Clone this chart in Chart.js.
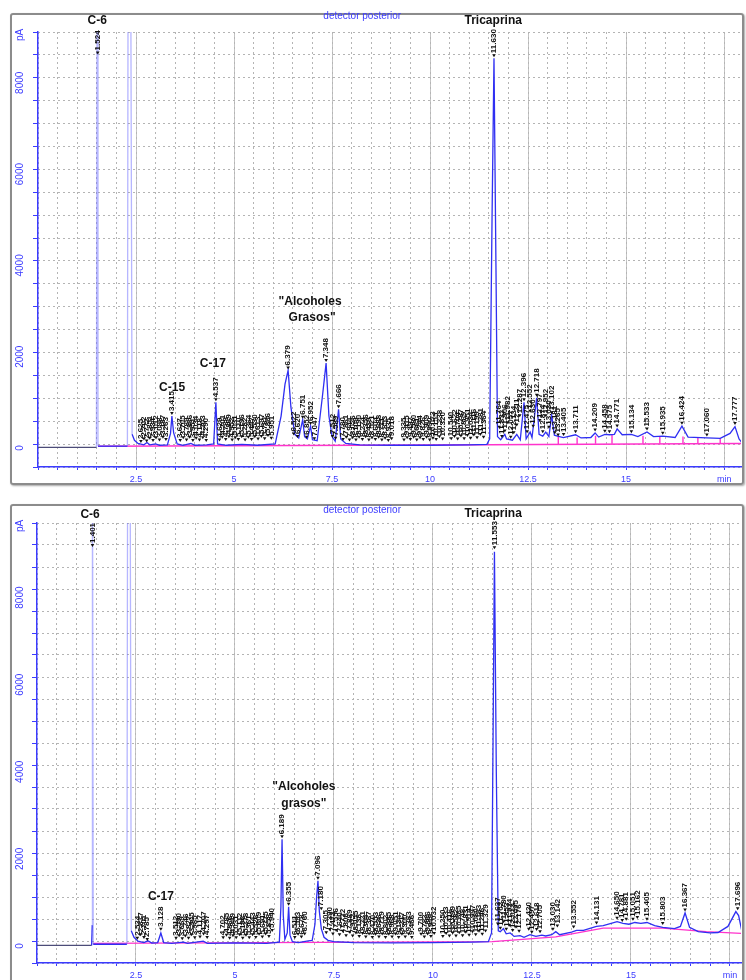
<!DOCTYPE html>
<html>
<head>
<meta charset="utf-8">
<script src="https://cdn.jsdelivr.net/npm/chart.js@4"></script>
<style>
  body { margin: 0; background: #fff; width: 746px; height: 980px; overflow: hidden; position: relative; }
  .frame { position: absolute; border: 2px solid #8c8c8c; border-radius: 3px; box-shadow: 1px 1px 2px rgba(0,0,0,.35); box-sizing: border-box; }
  #f1 { left: 10px; top: 13px; width: 734px; height: 472px; }
  #f2 { left: 10px; top: 504px; width: 734px; height: 490px; }
  canvas { position: absolute; left: 0; }
  #c1 { top: 0; }
  #c2 { top: 490px; }
</style>
</head>
<body>
<div class="frame" id="f1"></div>
<div class="frame" id="f2"></div>
<canvas id="c1" width="746" height="490"></canvas>
<canvas id="c2" width="746" height="490"></canvas>
<script>
// ============================================
// Cromatogramas (detector posterior) - Chart.js
// ============================================

// Ejes comunes
const xTickValues = [2.5, 5, 7.5, 10, 12.5, 15, 17.5];
const xTickLabels = ['2.5', '5', '7.5', '10', '12.5', '15', 'min'];
const yTickValues = [0, 2000, 4000, 6000, 8000];
const yTickLabels = ['0', '2000', '4000', '6000', '8000'];

// --- Cromatograma superior: traza (min, pA) ---
const topTraceTime = [0, 1.49, 1.51, 1.53, 2.28, 2.30, 2.36, 2.40, 2.46, 2.55,
  2.70, 2.78, 2.85, 3.00, 3.10, 3.30, 3.38, 3.415, 3.46, 3.55,
  3.70, 3.90, 4.00, 4.30, 4.48, 4.537, 4.58, 4.80, 5.20, 5.60,
  6.05, 6.20, 6.30, 6.379, 6.45, 6.55, 6.65, 6.751, 6.80, 6.87,
  6.952, 7.00, 7.12, 7.25, 7.348, 7.42, 7.50, 7.58, 7.666, 7.72,
  7.85, 8.20, 9.00, 10.00, 11.00, 11.45, 11.52, 11.58, 11.630, 11.68,
  11.72, 11.80, 11.906, 11.95, 12.10, 12.211, 12.30, 12.396, 12.45, 12.552,
  12.60, 12.718, 12.78, 12.874, 12.95, 13.03, 13.102, 13.17, 13.25, 13.40,
  13.711, 13.85, 14.10, 14.209, 14.30, 14.458, 14.575, 14.70, 14.771, 14.90,
  15.134, 15.30, 15.533, 15.70, 15.935, 16.25, 16.424, 16.58, 17.060, 17.40,
  17.65, 17.777, 17.88, 17.95];
const topTraceSignal = [15, 15, 12000, 40, 40, 12000, 12000, 300, 170, 100,
  70, 120, 70, 90, 60, 70, 320, 700, 330, 90,
  60, 100, 60, 70, 90, 1000, 90, 60, 80, 60,
  90, 700, 1400, 1700, 900, 300, 220, 620, 250, 200,
  480, 180, 160, 1100, 1860, 700, 250, 150, 850, 200,
  100, 70, 60, 60, 70, 80, 200, 5000, 8540, 4000,
  250, 180, 300, 200, 170, 300, 180, 1000, 200, 350,
  230, 1100, 300, 260, 350, 250, 720, 280, 260, 230,
  290, 220, 230, 330, 240, 300, 290, 300, 420, 290,
  300, 250, 350, 250, 260, 230, 480, 240, 220, 210,
  320, 470, 200, 120];
// linea base (rosa) y marcas de integracion
const topBaseTime = [1.53, 11.50, 17.93];
const topBaseSignal = [40, 70, 100];
const topDropTime = [13.27, 13.75, 14.22, 14.64, 15.43, 15.86, 16.45, 16.83, 17.40];
const topDropSignal = [260, 230, 270, 290, 270, 250, 250, 220, 210];
const topDropBase = [90, 90, 92, 93, 95, 96, 97, 98, 99];
// tiempos de retencion rotulados y altura del rotulo
const topPeakTime = [1.524,
  2.625, 2.702, 2.772, 2.851, 2.934, 3.012, 3.098, 3.187, 3.263,
  3.415,
  3.627, 3.705, 3.789, 3.866, 3.951, 4.034, 4.118, 4.203, 4.290,
  4.537,
  4.629, 4.701, 4.788, 4.869, 4.952, 5.031, 5.110, 5.196, 5.282, 5.364, 5.447, 5.530, 5.613, 5.697, 5.781, 5.866, 5.951,
  6.379,
  6.522, 6.620, 6.751, 6.852, 6.952, 7.047,
  7.348,
  7.512, 7.589, 7.666, 7.780, 7.861, 7.944, 8.026, 8.109, 8.190, 8.274, 8.356, 8.439, 8.521, 8.604, 8.688, 8.771, 8.853, 8.935, 9.018,
  9.335, 9.415, 9.497, 9.580, 9.661, 9.744, 9.826, 9.909, 9.990, 10.073, 10.155, 10.238, 10.320,
  10.540, 10.622, 10.704, 10.787, 10.869, 10.951, 11.034, 11.116, 11.199, 11.281, 11.364,
  11.630,
  11.764, 11.832, 11.906, 11.982, 12.057, 12.134, 12.211, 12.287, 12.396, 12.475, 12.552, 12.630, 12.718, 12.797, 12.874, 12.952, 13.030, 13.102, 13.181, 13.265, 13.405, 13.711,
  14.209, 14.458, 14.575, 14.771, 15.134, 15.533, 15.935, 16.424, 17.060, 17.777];
const topPeakHeight = [8600,
  90, 140, 100, 160, 110, 170, 120, 180, 130,
  700,
  110, 170, 120, 180, 110, 160, 120, 170, 110,
  1000,
  120, 180, 130, 190, 120, 170, 130, 190, 120, 180, 130, 190, 140, 200, 150, 220, 160,
  1700,
  250, 200, 620, 180, 480, 150,
  1860,
  200, 160, 850, 130, 180, 120, 170, 120, 180, 130, 190, 120, 170, 130, 180, 120, 160, 110, 150,
  120, 170, 130, 180, 120, 170, 130, 180, 120, 160, 130, 190, 140,
  150, 200, 140, 210, 150, 220, 160, 230, 170, 240, 180,
  8540,
  400, 200, 320, 500, 180, 280, 450, 650, 1000, 300, 750, 420, 1100, 550, 300, 650, 400, 720, 280, 230, 240, 300,
  340, 310, 300, 430, 300, 360, 270, 490, 230, 480];

// --- Cromatograma inferior ---
const botTraceTime = [0, 1.38, 1.395, 1.40, 1.42, 2.27, 2.29, 2.35, 2.38, 2.45,
  2.55, 2.70, 2.80, 2.90, 3.05, 3.128, 3.20, 3.40, 3.70, 3.80,
  4.20, 4.30, 5.00, 5.80, 6.12, 6.16, 6.189, 6.22, 6.26, 6.32,
  6.355, 6.39, 6.45, 6.60, 6.85, 6.95, 7.02, 7.06, 7.096, 7.13,
  7.18, 7.25, 7.35, 7.50, 8.00, 9.00, 10.00, 11.00, 11.40, 11.48,
  11.52, 11.553, 11.60, 11.65, 11.70, 11.78, 11.85, 11.95, 12.05, 12.20,
  12.30, 12.45, 12.60, 12.75, 12.85, 13.00, 13.102, 13.20, 13.50, 13.627,
  13.80, 14.131, 14.30, 14.50, 14.650, 14.80, 14.95, 15.10, 15.25, 15.405,
  15.60, 15.803, 16.10, 16.25, 16.367, 16.48, 16.70, 17.00, 17.20, 17.45,
  17.65, 17.72, 17.80, 17.90];
const botTraceSignal = [15, 15, 480, 12000, 40, 40, 12000, 12000, 350, 200,
  110, 80, 120, 70, 80, 300, 80, 60, 90, 60,
  110, 60, 70, 60, 90, 900, 2450, 700, 150, 300,
  900, 250, 100, 80, 120, 130, 500, 1100, 1500, 800,
  400, 200, 130, 100, 80, 70, 80, 90, 100, 300,
  5000, 9050, 4000, 350, 330, 400, 280, 300, 220, 240,
  200, 260, 220, 250, 230, 260, 330, 260, 320, 360,
  360, 450, 470, 520, 560, 520, 500, 540, 520, 540,
  470, 430, 400, 450, 760, 430, 330, 300, 310, 450,
  790, 700, 350, 260];
const botBaseTime = [1.42, 11.50, 13.10, 14.30, 15.80, 16.90, 17.80];
const botBaseSignal = [60, 100, 210, 410, 410, 330, 290];
const botDropTime = [];
const botDropSignal = [];
const botDropBase = [];
const botPeakTime = [1.401,
  2.534, 2.617, 2.701, 2.785,
  3.128,
  3.512, 3.590, 3.669, 3.746, 3.827, 3.905, 3.985,
  4.117, 4.207, 4.297,
  4.702, 4.785, 4.866, 4.949, 5.031, 5.112, 5.196, 5.278, 5.361, 5.443, 5.526, 5.609, 5.691, 5.775, 5.858, 5.940,
  6.189, 6.355,
  6.511, 6.593, 6.678, 6.760,
  7.096, 7.180,
  7.305, 7.390, 7.473, 7.556, 7.640, 7.722, 7.806, 7.889, 7.972, 8.055, 8.138, 8.221, 8.304, 8.387, 8.470, 8.553, 8.636, 8.719, 8.802, 8.885, 8.968, 9.051, 9.134, 9.217, 9.300, 9.383, 9.466,
  9.700, 9.783, 9.866, 9.949, 10.032,
  10.250, 10.333, 10.416, 10.499, 10.582, 10.665, 10.748, 10.831, 10.914, 10.997, 11.080, 11.163, 11.246, 11.329,
  11.553,
  11.637, 11.702, 11.780, 11.853, 11.934, 12.013, 12.095, 12.176,
  12.420, 12.497, 12.618, 12.705,
  13.030, 13.142, 13.552,
  14.131, 14.650, 14.781, 14.881, 15.051, 15.162, 15.405, 15.803, 16.367, 17.696];
const botPeakHeight = [9140,
  120, 200, 140, 90,
  330,
  120, 180, 110, 170, 120, 200, 130,
  150, 220, 140,
  130, 190, 120, 180, 130, 200, 120, 190, 130, 200, 140, 210, 150, 220, 160, 300,
  2450, 900,
  140, 210, 150, 220,
  1500, 800,
  250, 320, 220, 300, 200, 280, 180, 260, 170, 240, 160, 230, 150, 220, 140, 210, 150, 220, 140, 210, 150, 220, 140, 210, 150, 220, 140,
  210, 150, 220, 160, 230,
  160, 230, 170, 240, 170, 250, 180, 260, 190, 270, 200, 280, 210, 290,
  9090,
  450, 350, 500, 330, 420, 300, 380, 280,
  330, 260, 320, 270,
  330, 400, 380,
  470, 580, 530, 560, 560, 600, 560, 460, 770, 800];

// Colores y tipografia
const BLUE = '#3b3bff';
const TRACE = '#2f2ff2';
const PINK = '#ff33cc';
const GRID = '#c4c4c4';
const GRID_DOT = '#b4b4b4';
const FONT = '"Liberation Sans", Arial, sans-serif';

function pts(xs, ys) {
  return xs.map((x, i) => ({ x: x, y: ys[i] }));
}

// segmentos verticales (base -> traza) separados por huecos
function dropPts(xs, tops, bases) {
  const out = [];
  xs.forEach((x, i) => { out.push({ x: x, y: bases[i] }, { x: x, y: tops[i] }, { x: x, y: null }); });
  return out;
}

function vText(ctx, s, x, y) {
  ctx.save();
  ctx.translate(x, y);
  ctx.rotate(-Math.PI / 2);
  ctx.fillText(s, 0, 0);
  ctx.restore();
}

// Rotulos: ticks Y verticales, tiempos de retencion, nombres de picos
function makeOverlay(spec) {
  return {
    id: 'overlay',
    afterDatasetsDraw(chart) {
      const ctx = chart.ctx;
      const xs = chart.scales.x, ys = chart.scales.y;
      ctx.save();
      ctx.fillStyle = BLUE;
      ctx.font = '10px ' + FONT;
      ctx.textAlign = 'center';
      ctx.textBaseline = 'middle';
      yTickValues.forEach((v, i) => vText(ctx, yTickLabels[i], spec.yLabelX, ys.getPixelForValue(v)));
      vText(ctx, 'pA', spec.yLabelX, chart.chartArea.top + 3);

      // tiempos de retencion
      ctx.fillStyle = '#111';
      ctx.font = 'bold 8px ' + FONT;
      ctx.textAlign = 'left';
      spec.peakTime.forEach((t, i) => {
        const px = xs.getPixelForValue(t);
        const py = ys.getPixelForValue(spec.peakHeight[i]) - 1;
        ctx.beginPath();
        ctx.moveTo(px, py);
        ctx.lineTo(px - 1.8, py - 3);
        ctx.lineTo(px + 1.8, py - 3);
        ctx.closePath();
        ctx.fill();
        vText(ctx, t.toFixed(3), px, py - 4);
      });

      // nombres de compuestos
      ctx.textAlign = 'center';
      spec.notes.forEach(n => {
        ctx.fillStyle = n.blue ? BLUE : '#111';
        ctx.font = (n.blue ? '10px ' : 'bold 12px ') + FONT;
        ctx.fillText(n.text, xs.getPixelForValue(n.t), ys.getPixelForValue(n.v));
      });
      ctx.restore();
    }
  };
}

function buildChart(canvasId, spec) {
  return new Chart(document.getElementById(canvasId), {
    type: 'line',
    data: {
      datasets: [
        {
          data: pts(spec.traceTime, spec.traceSignal),
          borderColor: TRACE, borderWidth: 1.3, pointRadius: 0, tension: 0, order: 0,
          segment: {
            borderColor: c => (c.p0.parsed.y > 9500 || c.p1.parsed.y > 9500) ? 'rgba(110,110,255,0.5)'
              : (c.p1.parsed.x <= spec.darkUntil ? '#4c4c78' : undefined)
          }
        },
        { data: pts(spec.baseTime, spec.baseSignal), borderColor: PINK, borderWidth: 1.4, pointRadius: 0, order: 1 },
        { data: dropPts(spec.dropTime, spec.dropSignal, spec.dropBase), borderColor: PINK, borderWidth: 1.4, pointRadius: 0, spanGaps: false, order: 1 }
      ]
    },
    options: {
      responsive: false,
      animation: false,
      events: [],
      layout: { padding: { left: 0, right: 5, top: spec.padTop, bottom: 0 } },
      plugins: { legend: { display: false }, tooltip: { enabled: false } },
      scales: {
        x: {
          type: 'linear', min: 0, max: spec.xMax, position: 'bottom',
          afterFit: s => { s.height = spec.xAxisH; },
          ticks: {
            stepSize: 0.5, includeBounds: false, autoSkip: false, maxRotation: 0, minRotation: 0,
            padding: 4, color: BLUE, font: { size: 9, family: FONT },
            callback: v => { const i = xTickValues.indexOf(v); return i < 0 ? '' : xTickLabels[i]; }
          },
          grid: {
            color: c => (c.tick && xTickValues.includes(c.tick.value)) ? GRID : 'rgba(0,0,0,0)',
            tickColor: BLUE, tickLength: 3, lineWidth: 1
          },
          border: { color: BLUE, width: 1.5 }
        },
        xg: {
          type: 'linear', min: 0, max: spec.xMax, position: 'bottom',
          afterFit: s => { s.height = 0; },
          ticks: { display: false, stepSize: 0.5, includeBounds: false },
          grid: { color: GRID_DOT, drawTicks: false, lineWidth: 1 },
          border: { display: false, dash: [2, 3] }
        },
        y: {
          type: 'linear', min: spec.yMin, max: spec.yMax, position: 'left',
          afterFit: s => { s.width = spec.yAxisW; },
          ticks: { display: false, stepSize: 500, includeBounds: false },
          grid: {
            color: c => (c.tick && c.tick.value % 2000 === 0) ? GRID : 'rgba(0,0,0,0)',
            tickColor: BLUE, tickLength: 5, lineWidth: 1
          },
          border: { color: BLUE, width: 1.5 }
        },
        yg: {
          type: 'linear', min: spec.yMin, max: spec.yMax, position: 'left',
          afterFit: s => { s.width = 0; },
          ticks: { display: false, stepSize: 500, includeBounds: false },
          grid: { color: GRID_DOT, drawTicks: false, lineWidth: 1 },
          border: { display: false, dash: [2, 3] }
        }
      }
    },
    plugins: [makeOverlay(spec)]
  });
}

buildChart('c1', {
  traceTime: topTraceTime, traceSignal: topTraceSignal,
  baseTime: topBaseTime, baseSignal: topBaseSignal,
  dropTime: topDropTime, dropSignal: topDropSignal, dropBase: topDropBase,
  peakTime: topPeakTime, peakHeight: topPeakHeight,
  darkUntil: 1.49,
  xMax: 17.93, yMin: -416, yMax: 9113,
  padTop: 32, xAxisH: 23, yAxisW: 38, yLabelX: 20,
  notes: [
    { text: 'C-6', t: 1.51, v: 9354 },
    { text: 'Tricaprina', t: 11.61, v: 9354 },
    { text: 'detector posterior', t: 8.27, v: 9463, blue: true },
    { text: 'C-15', t: 3.42, v: 1314 },
    { text: 'C-17', t: 4.46, v: 1840 },
    { text: '"Alcoholes', t: 6.94, v: 3198 },
    { text: 'Grasos"', t: 6.99, v: 2848 }
  ]
});

buildChart('c2', {
  traceTime: botTraceTime, traceSignal: botTraceSignal,
  baseTime: botBaseTime, baseSignal: botBaseSignal,
  dropTime: botDropTime, dropSignal: botDropSignal, dropBase: botDropBase,
  peakTime: botPeakTime, peakHeight: botPeakHeight,
  darkUntil: 1.38,
  xMax: 17.78, yMin: -390, yMax: 9713,
  padTop: 33, xAxisH: 17, yAxisW: 37, yLabelX: 20,
  notes: [
    { text: 'C-6', t: 1.34, v: 9897 },
    { text: 'Tricaprina', t: 11.52, v: 9920 },
    { text: 'detector posterior', t: 8.21, v: 10011, blue: true },
    { text: 'C-17', t: 3.13, v: 1125 },
    { text: '"Alcoholes', t: 6.74, v: 3651 },
    { text: 'grasos"', t: 6.74, v: 3261 }
  ]
});
</script>
</body>
</html>
